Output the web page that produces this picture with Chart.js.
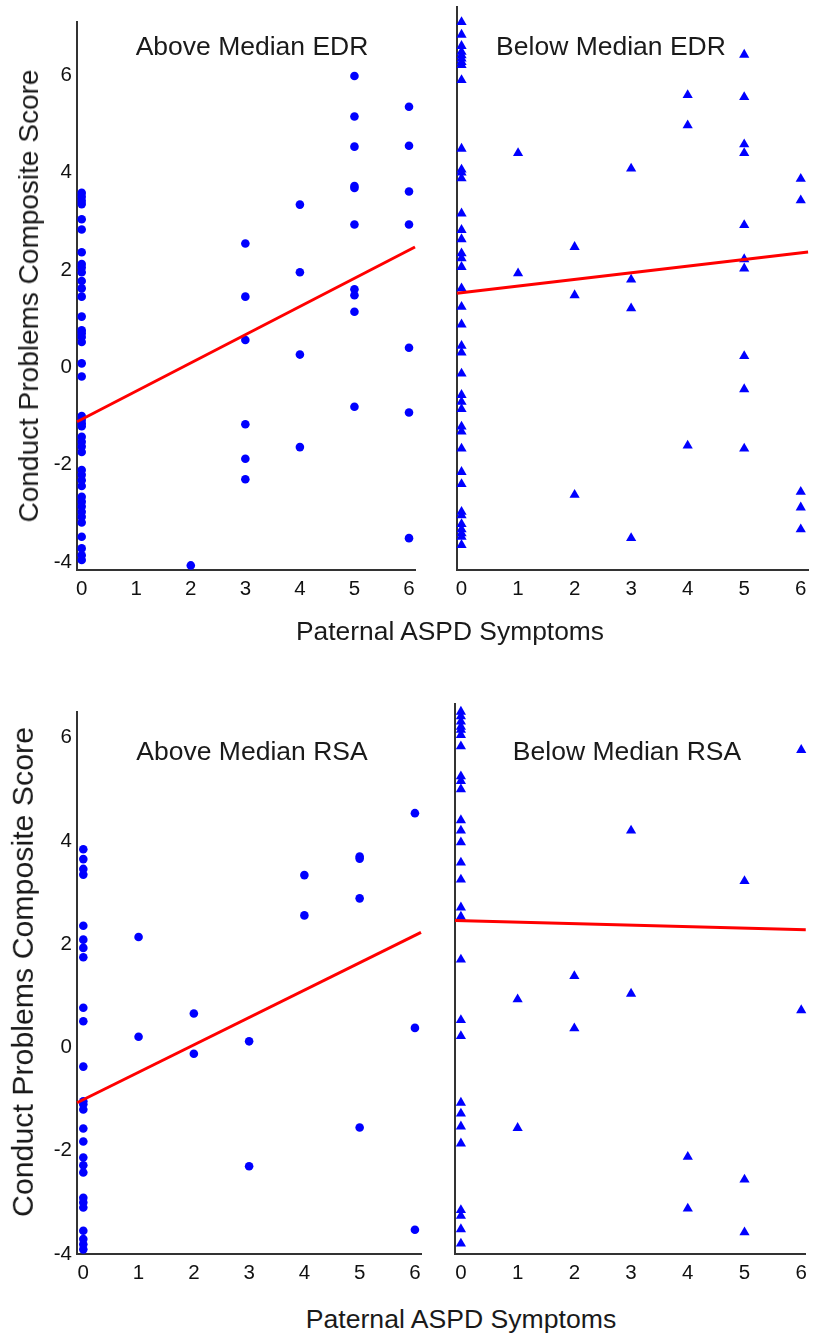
<!DOCTYPE html>
<html>
<head>
<meta charset="utf-8">
<script src="https://cdn.jsdelivr.net/npm/chart.js@4.4.1/dist/chart.umd.min.js"></script>
<style>
body { margin: 0; background: #fff; font-family: "Liberation Sans", Arial, sans-serif; color: #1a1a1a; }
#page { position: relative; width: 814px; height: 1336px; overflow: hidden; background: #fff; }
#page canvas { position: absolute; }
.t { position: absolute; white-space: nowrap; line-height: 1; }
.ytitle { transform: translate(-50%, -50%) rotate(-90deg); }
.ctr { transform: translateX(-50%); }
</style>
</head>
<body>
<div id="page">
  <canvas id="c1" width="430" height="615" style="left:0px;top:0px"></canvas>
  <canvas id="c2" width="394" height="615" style="left:420px;top:0px"></canvas>
  <canvas id="c3" width="430" height="690" style="left:0px;top:610px"></canvas>
  <canvas id="c4" width="394" height="690" style="left:420px;top:610px"></canvas>

  <div class="t ctr" style="left:252px;top:33px;font-size:26.5px">Above Median EDR</div>
  <div class="t ctr" style="left:611px;top:33px;font-size:26.5px">Below Median EDR</div>
  <div class="t ctr" style="left:252px;top:738px;font-size:26.5px">Above Median RSA</div>
  <div class="t ctr" style="left:627px;top:738px;font-size:26.5px">Below Median RSA</div>

  <div class="t ytitle" style="left:29px;top:296px;font-size:28px">Conduct Problems Composite Score</div>
  <div class="t ytitle" style="left:23px;top:972px;font-size:30.3px">Conduct Problems Composite Score</div>

  <div class="t ctr" style="left:450px;top:618px;font-size:26.4px">Paternal ASPD Symptoms</div>
  <div class="t ctr" style="left:461px;top:1306px;font-size:26.6px">Paternal ASPD Symptoms</div>
</div>
<script>
// paternal ASPD symptom counts (x categories)
const symptoms = [0, 1, 2, 3, 4, 5, 6];
const xTicks = [0, 1, 2, 3, 4, 5, 6];
const yTicks = [-4, -2, 0, 2, 4, 6];

// conduct problem scores, one list per symptom count
const aboveEdrScores = [
    [3.58, 3.50, 3.42, 3.35, 3.04, 2.83, 2.36, 2.12, 2.05, 1.95, 1.77, 1.62, 1.45, 1.04, 0.76, 0.70, 0.62, 0.52, 0.08, -0.19,
     -1.00, -1.08, -1.15, -1.21, -1.43, -1.53, -1.63, -1.74, -2.11, -2.21, -2.32, -2.44, -2.66, -2.76, -2.86, -2.97, -3.07,
     -3.19, -3.48, -3.72, -3.86, -3.96],
    [],
    [-4.07],
    [2.54, 1.45, 0.56, -1.17, -1.88, -2.30],
    [3.34, 1.95, 0.26, -1.64],
    [5.98, 5.15, 4.53, 3.72, 3.68, 2.93, 1.60, 1.48, 1.14, -0.81],
    [5.35, 4.55, 3.61, 2.93, 0.40, -0.93, -3.51]
];
const belowEdrScores = [
    [7.09, 6.83, 6.60, 6.48, 6.41, 6.34, 6.27, 6.21, 5.90, 4.49, 4.06, 4.00, 3.88, 3.16, 2.82, 2.63, 2.34, 2.24, 2.06, 1.62,
     1.24, 0.88, 0.44, 0.30, -0.13, -0.57, -0.71, -0.86, -1.22, -1.32, -1.67, -2.15, -2.40, -2.97, -3.04, -3.22, -3.33,
     -3.41, -3.48, -3.65],
    [4.40, 1.93],
    [2.47, 1.48, -2.62],
    [4.08, 1.80, 1.21, -3.51],
    [5.59, 4.97, -1.61],
    [6.42, 5.55, 4.58, 4.40, 2.92, 2.22, 2.03, 0.23, -0.45, -1.67],
    [3.87, 3.43, -2.56, -2.88, -3.33]
];
const aboveRsaScores = [
    [3.84, 3.65, 3.46, 3.35, 2.36, 2.09, 1.93, 1.75, 0.77, 0.51, -0.37, -1.04, -1.10, -1.20, -1.57, -1.82, -2.13, -2.28,
     -2.42, -2.91, -3.00, -3.10, -3.55, -3.71, -3.81, -3.91],
    [2.14, 0.21],
    [0.66, -0.12],
    [0.12, -2.30],
    [3.34, 2.56],
    [3.70, 3.66, 2.89, -1.55],
    [4.54, 0.38, -3.53]
];
const belowRsaScores = [
    [6.50, 6.41, 6.31, 6.21, 6.15, 6.05, 5.83, 5.25, 5.16, 5.00, 4.40, 4.20, 3.97, 3.58, 3.25, 2.71, 2.53, 1.70, 0.53, 0.22,
     -1.07, -1.28, -1.53, -1.86, -3.15, -3.26, -3.52, -3.80],
    [0.93, -1.56],
    [1.38, 0.37],
    [4.20, 1.04],
    [-2.12, -3.12],
    [3.22, -2.56, -3.58],
    [5.76, 0.72]
];

// fitted lines, endpoints read at the axis edges
const aboveEdrLineX = [-0.086, 6.11], aboveEdrLineY = [-1.12, 2.47];
const belowEdrLineX = [-0.08, 6.13],  belowEdrLineY = [1.52, 2.37];
const aboveRsaLineX = [-0.114, 6.11], aboveRsaLineY = [-1.07, 2.23];
const belowRsaLineX = [-0.104, 6.08], belowRsaLineY = [2.46, 2.28];

// layout: canvas box and plot area in page pixels
const panels = [
    { id: 'c1', scores: aboveEdrScores, lx: aboveEdrLineX, ly: aboveEdrLineY, marker: 'circle',
      box: [0, 0, 430, 615], area: [77, 22, 415, 570], xr: [-0.086, 6.11], yr: [-4.164, 7.09], yLabels: true },
    { id: 'c2', scores: belowEdrScores, lx: belowEdrLineX, ly: belowEdrLineY, marker: 'triangle',
      box: [420, 0, 394, 615], area: [457, 7, 813, 570], xr: [-0.08, 6.13], yr: [-4.164, 7.40], yLabels: false },
    { id: 'c3', scores: aboveRsaScores, lx: aboveRsaLineX, ly: aboveRsaLineY, marker: 'circle',
      box: [0, 610, 430, 690], area: [77, 712, 421, 1254], xr: [-0.114, 6.11], yr: [-4.0, 6.50], yLabels: true },
    { id: 'c4', scores: belowRsaScores, lx: belowRsaLineX, ly: belowRsaLineY, marker: 'triangle',
      box: [420, 610, 394, 690], area: [455, 704, 813, 1254], xr: [-0.104, 6.08], yr: [-4.0, 6.65], yLabels: false }
];

function toPoints(scores) {
    let pts = [];
    scores.forEach((col, i) => col.forEach(v => pts.push({ x: symptoms[i], y: v })));
    return pts;
}

function drawPanel(p) {
    const [bl, bt, bw, bh] = p.box;
    const [al, at, ar, ab] = p.area;
    const axisW = al - bl;
    const axisH = bt + bh - ab;
    const tickFont = { family: '"Liberation Sans", Arial, sans-serif', size: 20.5 };

    new Chart(document.getElementById(p.id), {
        type: 'scatter',
        data: {
            datasets: [
                {
                    data: p.lx.map((x, i) => ({ x: x, y: p.ly[i] })),
                    showLine: true,
                    borderColor: '#ff0000',
                    borderWidth: 3,
                    pointRadius: 0,
                    clip: false
                },
                {
                    data: toPoints(p.scores),
                    pointStyle: p.marker,
                    pointRadius: p.marker == 'circle' ? 4.3 : 5.9,
                    backgroundColor: '#0000ff',
                    borderWidth: 0,
                    clip: false
                }
            ]
        },
        options: {
            responsive: false,
            animation: false,
            devicePixelRatio: 1,
            layout: { padding: { left: 0, top: at - bt, right: bl + bw - ar, bottom: 0 } },
            plugins: { legend: { display: false }, tooltip: { enabled: false } },
            scales: {
                x: {
                    type: 'linear',
                    min: p.xr[0],
                    max: p.xr[1],
                    afterBuildTicks: s => { s.ticks = xTicks.map(v => ({ value: v })); },
                    afterFit: s => { s.height = axisH; },
                    grid: { display: true, drawOnChartArea: false, drawTicks: false },
                    border: { display: true, color: '#333', width: 2 },
                    ticks: { color: '#111', font: tickFont, padding: 7, maxRotation: 0 }
                },
                y: {
                    type: 'linear',
                    min: p.yr[0],
                    max: p.yr[1],
                    afterBuildTicks: s => { s.ticks = yTicks.map(v => ({ value: v })); },
                    afterFit: s => { s.width = axisW; },
                    grid: { display: true, drawOnChartArea: false, drawTicks: false },
                    border: { display: true, color: '#333', width: 2 },
                    ticks: { display: p.yLabels, color: '#111', font: tickFont, padding: 5 }
                }
            }
        }
    });
}

panels.forEach(drawPanel);
</script>
</body>
</html>
